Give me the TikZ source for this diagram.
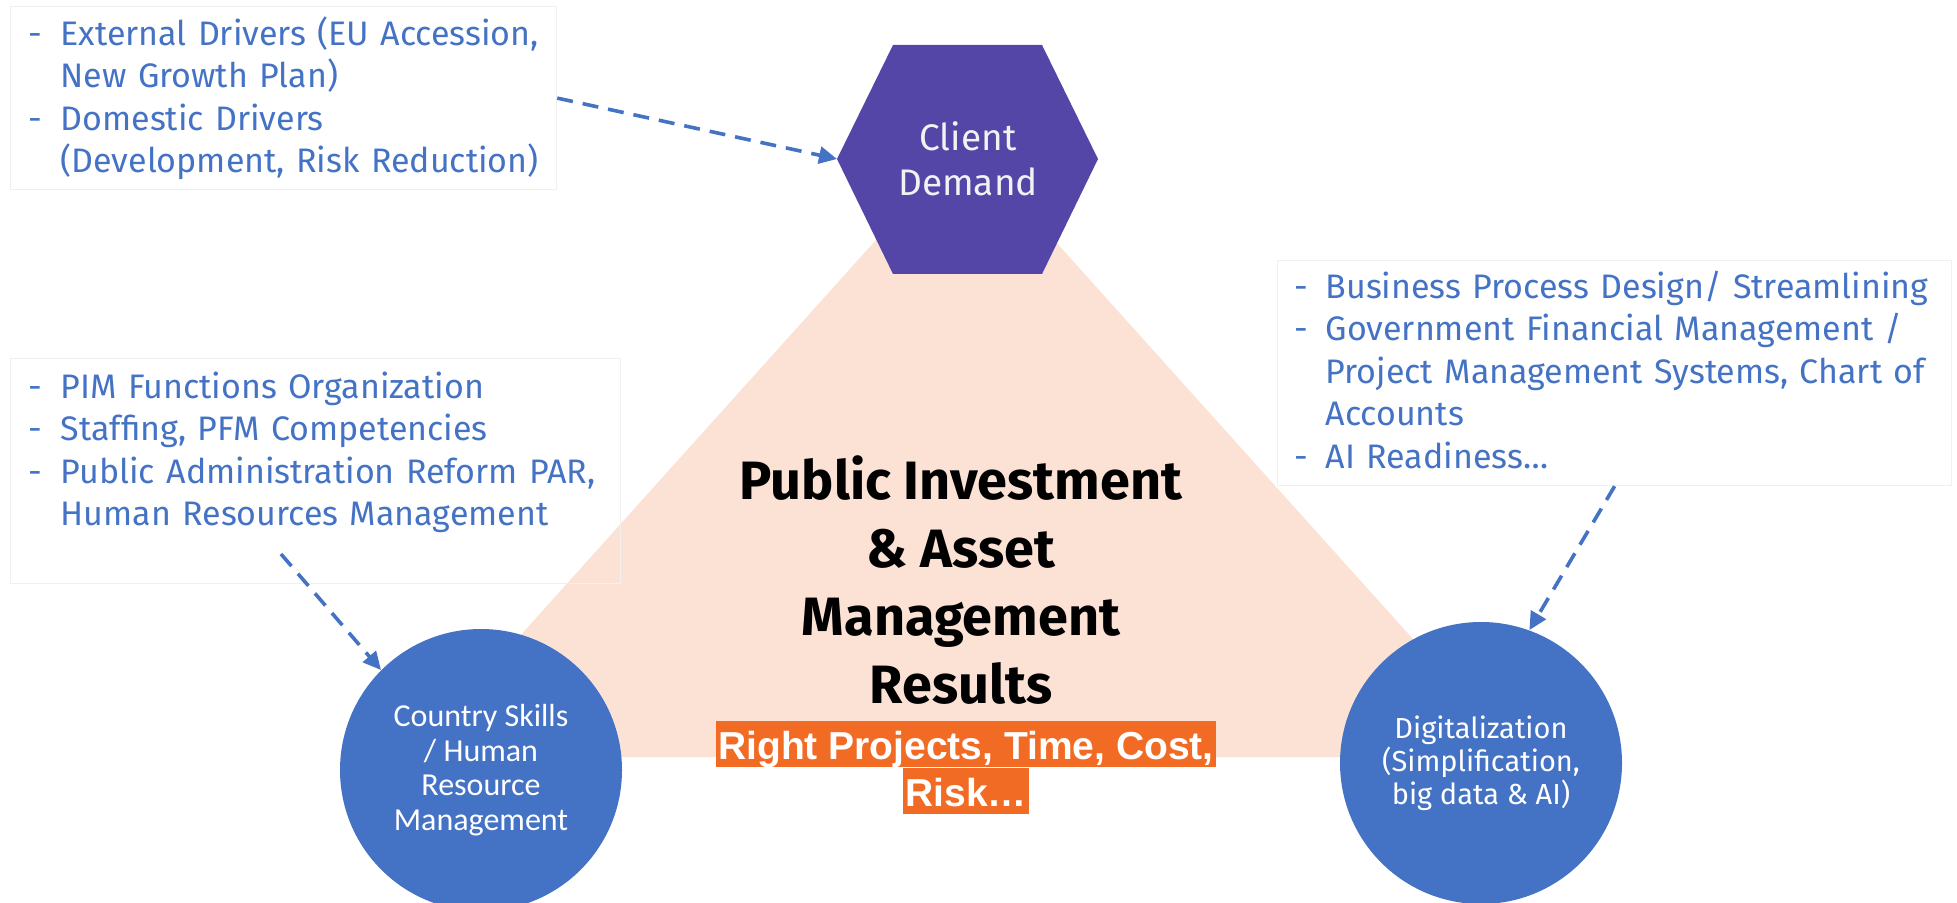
\documentclass[tikz,border=0pt]{standalone}
\usepackage{fontspec}
\setmainfont{Fira Sans}
\newfontfamily\carlitofont{Carlito}
\newfontfamily\arialfont{Liberation Sans}
\usepackage{tikz}
\usetikzlibrary{positioning}
\usetikzlibrary{arrows.meta}
\usepackage{xcolor}

\definecolor{pimblue}{HTML}{4472C4}
\definecolor{hexpurple}{HTML}{5346A7}
\definecolor{trifill}{HTML}{FBE2D5}
\definecolor{goalorange}{HTML}{F26B24}
\definecolor{boxgray}{HTML}{F0F0F0}
\definecolor{hexwhite}{HTML}{F2F2F2}

\tikzset{
  notebox/.style={draw=boxgray, line width=0.6pt, anchor=north west, inner ysep=0pt, text=pimblue, font=\fontsize{17}{21.2}\selectfont},
  feed/.style={pimblue, line width=1.8pt, dash pattern=on 8pt off 5pt, -{Triangle[length=9pt,width=8.5pt]}},
  pillar/.style={circle, fill=pimblue, text=white, minimum size=141pt, inner sep=0pt, align=center},
  goalbar/.style={fill=goalorange, text=white, inner xsep=1pt, inner ysep=0pt, text height=19pt, text depth=4pt, font=\arialfont\bfseries\fontsize{19.5}{23}\selectfont}
}

\begin{document}
\begin{tikzpicture}[x=0.5pt,y=-0.5pt]

\useasboundingbox (0,0) rectangle (1957,903);

%%%%%%%%%%%%    triangle and hexagon   %%%%%%%%%%%%
\fill[trifill] (965,141)--(1519,757)--(411,757)--cycle;

\coordinate (hexW) at (837,159);
\fill[hexpurple] (hexW)--(893,45)--(1042,45)--(1098,159)--(1042,274)--(893,274)--cycle;
\node (demand) at (968,159) [text=hexwhite, align=center, font=\fontsize{18.5}{22.5}\selectfont] {Client\\Demand};

%%%%%%%%%%%%    pillars   %%%%%%%%%%%%
\node[pillar, font=\carlitofont\fontsize{16}{17.3}\selectfont] (skills) at (481,770) {Country Skills\\/ Human\\Resource\\Management};
\node[pillar, font=\fontsize{14.5}{16.5}\selectfont] (digital) at (1481,763) {Digitalization\\(Simplification,\\big data \& AI)};

% centre
\node[anchor=base, font=\bfseries\fontsize{27}{34}\selectfont] (results) at (961,499) {\begin{tabular}[t]{@{}c@{}} Public Investment\\ \& Asset\\ Management\\ Results \end{tabular}};

\node[goalbar, anchor=north] (goal1) at (966,721) {Right Projects, Time, Cost,\ };
\node[goalbar, below=0pt of goal1] (goal2) {Risk\ldots};

%%%%%%%%%%%%    note boxes   %%%%%%%%%%%%
\node[notebox, inner xsep=9pt, text width=255pt, text height=19.5pt, text depth=72pt] (drivers) at (10,6) {\begin{tabular}[t]{@{}p{16pt}@{}l@{}}
- & External Drivers (EU Accession,\\
  & New Growth Plan)\\
- & Domestic Drivers\\
  & (Development, Risk Reduction)
\end{tabular}};

\node[notebox, inner xsep=9pt, text width=287pt, text height=19.8pt, text depth=92.7pt] (staff) at (10,358) {\begin{tabular}[t]{@{}p{16pt}@{}l@{}}
- & PIM Functions Organization\\
- & Staffing, PFM Competencies\\
- & Public Administration Reform PAR,\\
  & Human Resources Management
\end{tabular}};

\node[notebox, inner xsep=8.5pt, text width=320pt, text height=19pt, text depth=93.5pt] (tech) at (1277,260) {\begin{tabular}[t]{@{}p{15.5pt}@{}l@{}}
- & Business Process Design/ Streamlining\\
- & Government Financial Management /\\
  & Project Management Systems, Chart of\\
  & Accounts\\
- & AI Readiness\ldots
\end{tabular}};

% arrows
\coordinate (staffTail) at (281,554);
\draw[feed] (drivers.east)--(hexW);
\draw[feed] (staffTail)--(skills.135);
\draw[feed] (tech.south)--(digital.70);

\end{tikzpicture}
\end{document}
